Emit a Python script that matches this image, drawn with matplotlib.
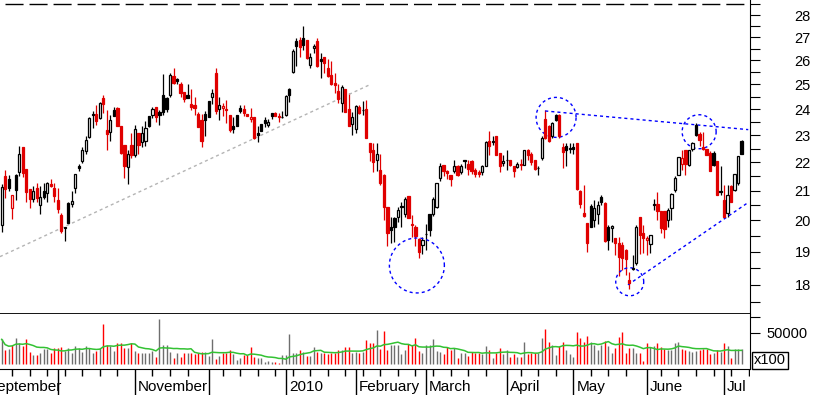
import numpy as np
import pandas as pd
import matplotlib
matplotlib.use('Agg')
import matplotlib.pyplot as plt
from matplotlib.ticker import FixedLocator, FuncFormatter, NullFormatter

plt.rcParams['font.family'] = ['Liberation Sans', 'DejaVu Sans']
plt.rcParams['lines.scale_dashes'] = False

# daily candles (open, high, low, close)
opens = [19.86, 21.50, 21.40, 20.41, 21.55, 21.67, 22.55, 21.76, 21.05, 20.73,
         21.09, 20.50, 21.00, 20.92, 21.22, 21.10, 20.69, 20.18, 19.80, 20.57,
         20.54, 21.10, 21.85, 22.03, 22.40, 22.93, 23.82, 23.80, 23.65, 24.45,
         23.20, 23.11, 23.97, 24.04, 23.33, 22.63, 21.83, 22.62, 22.26, 23.07,
         22.73, 22.78, 23.72, 23.76, 24.09, 23.89, 24.55, 24.46, 24.58, 25.32,
         25.20, 25.00, 24.70, 24.58, 24.20, 24.16, 23.80, 23.58, 23.80, 24.31,
         24.47, 25.45, 24.00, 24.03, 24.00, 23.76, 23.33, 23.76, 24.04, 24.00,
         23.80, 23.60, 23.70, 23.07, 23.43, 23.58, 23.40, 23.85, 23.87, 23.75,
         23.71, 23.76, 24.80, 25.52, 26.85, 26.88, 26.99, 26.88, 25.80, 26.52,
         26.85, 26.05, 26.13, 25.66, 25.40, 25.06, 24.73, 24.25, 24.80, 24.00,
         23.43, 23.22, 24.07, 23.98, 24.00, 22.70, 22.45, 22.07, 21.73, 21.55,
         20.44, 19.80, 20.07, 20.12, 20.48, 20.22, 20.82, 19.90, 19.80, 19.41,
         19.22, 19.57, 20.22, 20.22, 20.44, 21.43, 21.90, 21.68, 21.55, 21.70,
         21.87, 21.64, 22.07, 21.95, 22.03, 21.73, 21.65, 21.67, 21.85, 22.78,
         22.80, 22.95, 22.35, 21.98, 22.10, 22.07, 21.87, 21.83, 21.93, 21.91,
         22.45, 22.30, 22.07, 21.80, 22.17, 23.60, 23.33, 22.95, 23.76, 23.76,
         22.57, 22.60, 22.52, 22.55, 22.69, 21.00, 20.25, 19.91, 20.47, 20.02,
         20.22, 20.80, 20.57, 19.80, 19.75, 19.43, 19.28, 19.20, 19.06, 18.13,
         18.50, 18.65, 20.12, 19.60, 19.36, 19.26, 20.55, 20.55, 20.30, 20.30,
         20.02, 20.40, 21.03, 21.55, 21.95, 22.43, 21.90, 22.47, 23.40, 23.04,
         22.57, 22.50, 22.35, 22.33, 22.03, 21.00, 20.69, 20.25, 21.16, 21.03,
         21.26, 22.80]
highs = [21.24, 21.73, 21.55, 20.86, 21.60, 22.60, 22.55, 21.76, 21.05, 21.16,
         21.25, 21.16, 21.28, 21.30, 21.40, 21.26, 21.08, 20.25, 19.80, 20.60,
         21.00, 21.60, 21.95, 22.55, 22.95, 23.70, 23.93, 24.15, 24.30, 24.55,
         23.97, 23.76, 24.10, 24.10, 23.33, 22.63, 22.43, 23.07, 23.40, 23.10,
         23.35, 23.55, 23.72, 24.09, 24.09, 23.95, 25.44, 24.50, 25.45, 25.68,
         25.25, 25.10, 24.70, 25.03, 24.80, 24.47, 23.90, 23.83, 23.92, 24.31,
         24.80, 25.66, 24.47, 24.25, 24.36, 23.76, 23.70, 23.76, 24.18, 24.18,
         23.80, 24.04, 23.70, 23.33, 23.43, 23.68, 23.60, 23.85, 23.90, 23.87,
         23.93, 24.55, 24.85, 26.48, 26.95, 27.01, 27.50, 26.88, 26.30, 26.70,
         26.99, 26.30, 26.16, 26.05, 25.98, 25.45, 25.03, 24.96, 24.80, 24.63,
         23.89, 24.16, 24.16, 24.33, 24.36, 22.72, 22.69, 22.69, 22.30, 21.60,
         20.45, 20.12, 20.10, 20.45, 20.63, 20.80, 20.82, 20.18, 19.84, 19.45,
         19.48, 19.90, 20.22, 20.80, 21.26, 21.98, 21.90, 21.73, 21.55, 22.10,
         21.90, 21.95, 22.10, 22.09, 22.10, 21.79, 21.73, 21.90, 22.80, 23.14,
         22.98, 22.95, 22.35, 22.25, 22.43, 22.07, 21.87, 22.00, 22.11, 22.45,
         22.50, 22.39, 22.07, 21.85, 22.95, 23.97, 23.40, 23.50, 23.80, 23.80,
         22.69, 22.69, 22.69, 22.69, 22.69, 21.03, 21.20, 19.91, 20.55, 20.69,
         20.65, 20.85, 20.60, 19.85, 19.85, 19.43, 19.48, 19.30, 19.10, 18.37,
         18.90, 19.85, 20.12, 19.84, 19.50, 19.54, 20.70, 20.95, 20.30, 20.30,
         20.40, 20.92, 21.50, 22.20, 22.43, 22.43, 22.45, 22.75, 23.45, 23.13,
         23.13, 22.50, 22.40, 22.40, 22.03, 21.87, 21.20, 21.20, 21.20, 21.59,
         22.23, 22.82]
lows = [19.64, 20.75, 20.98, 20.04, 20.69, 21.50, 21.46, 20.63, 20.43, 20.63,
        20.63, 20.20, 20.71, 20.63, 21.14, 20.60, 20.26, 19.60, 19.33, 19.88,
        20.44, 20.92, 21.70, 21.98, 22.30, 22.90, 23.27, 23.40, 23.60, 23.87,
        22.43, 22.78, 23.75, 23.33, 22.30, 21.45, 21.24, 22.17, 22.20, 22.30,
        22.55, 22.60, 23.30, 23.65, 23.50, 23.40, 23.76, 23.90, 24.50, 25.00,
        25.00, 24.50, 24.30, 24.43, 23.97, 23.76, 23.30, 22.57, 22.98, 23.71,
        24.22, 23.80, 23.58, 23.75, 23.46, 23.13, 23.07, 23.36, 23.85, 23.72,
        23.74, 23.50, 22.85, 22.74, 23.14, 23.30, 23.30, 23.60, 23.73, 23.50,
        23.64, 23.74, 24.30, 25.45, 25.75, 26.16, 26.44, 26.05, 25.66, 26.30,
        25.73, 25.26, 25.45, 25.30, 24.98, 24.66, 24.25, 23.89, 23.89, 23.33,
        23.00, 23.07, 23.80, 23.76, 22.88, 22.05, 21.67, 21.70, 21.20, 20.02,
        19.17, 19.28, 19.30, 19.95, 19.80, 20.10, 20.09, 19.48, 19.17, 18.80,
        18.94, 19.06, 19.50, 20.15, 20.40, 21.35, 21.50, 21.40, 21.16, 21.62,
        21.50, 21.60, 21.80, 21.55, 21.60, 21.46, 21.46, 21.55, 21.85, 22.27,
        22.63, 22.27, 21.67, 21.85, 21.73, 21.85, 21.48, 21.80, 21.73, 21.90,
        22.09, 21.91, 21.73, 21.55, 22.07, 22.85, 22.75, 22.90, 23.55, 22.90,
        21.80, 21.85, 22.35, 22.30, 21.03, 20.40, 20.12, 19.00, 19.80, 19.79,
        19.90, 20.50, 19.30, 19.05, 19.30, 18.90, 18.25, 18.45, 18.30, 17.87,
        18.45, 18.60, 18.94, 18.95, 18.90, 18.95, 20.35, 20.00, 19.60, 19.43,
        19.80, 20.02, 20.95, 21.55, 21.73, 21.55, 21.87, 22.40, 22.95, 22.60,
        22.45, 22.27, 21.68, 21.85, 20.85, 20.85, 20.07, 20.10, 20.60, 21.00,
        21.20, 22.30]
closes = [21.13, 21.06, 21.10, 20.86, 21.03, 22.30, 21.63, 20.96, 20.71, 21.00,
          20.75, 20.78, 20.80, 21.26, 21.18, 20.83, 20.38, 19.66, 19.77, 19.91,
          20.66, 21.59, 21.78, 22.43, 22.82, 23.65, 23.78, 23.55, 24.25, 24.20,
          23.03, 23.58, 23.75, 23.33, 22.35, 21.85, 22.30, 22.26, 23.24, 22.63,
          23.10, 23.27, 23.33, 24.00, 23.68, 23.76, 23.90, 24.00, 25.40, 25.06,
          25.12, 24.63, 24.40, 24.45, 24.10, 24.05, 23.30, 22.80, 23.58, 23.71,
          24.63, 23.94, 24.18, 24.14, 23.95, 23.20, 23.22, 23.36, 23.94, 23.85,
          23.74, 23.70, 22.88, 23.00, 23.14, 23.48, 23.50, 23.75, 23.73, 23.68,
          23.70, 24.52, 24.55, 26.40, 26.62, 26.59, 26.66, 26.08, 26.13, 26.62,
          25.76, 25.96, 25.87, 25.35, 25.02, 24.99, 24.39, 24.90, 23.89, 23.35,
          23.68, 24.11, 23.85, 23.96, 22.90, 22.38, 22.00, 22.30, 21.26, 20.45,
          19.61, 19.70, 19.80, 20.35, 20.46, 20.71, 20.09, 19.85, 19.51, 19.00,
          19.38, 19.55, 19.70, 20.71, 21.26, 21.87, 21.70, 21.62, 21.40, 21.87,
          21.55, 21.87, 22.03, 21.77, 21.68, 21.60, 21.58, 21.85, 22.75, 22.60,
          22.76, 22.27, 21.85, 22.05, 22.07, 21.91, 21.70, 21.95, 21.90, 22.45,
          22.28, 22.00, 21.75, 21.78, 22.90, 22.88, 22.80, 23.46, 23.58, 22.95,
          22.39, 22.45, 22.47, 22.50, 21.05, 20.55, 20.15, 19.28, 19.80, 20.41,
          20.52, 20.63, 19.33, 19.38, 19.82, 19.28, 18.85, 18.82, 18.78, 18.05,
          18.46, 19.80, 19.54, 19.45, 19.44, 19.54, 20.50, 20.30, 19.75, 19.72,
          20.35, 20.90, 21.43, 22.20, 22.16, 21.95, 22.45, 22.72, 23.00, 22.82,
          22.50, 22.27, 21.70, 21.91, 20.86, 20.95, 20.12, 20.86, 20.62, 21.59,
          22.23, 22.30]
# volume in units of 100 shares
volumes = [39500, 22700, 23700, 30600, 42200, 34300, 29000, 40100, 20000, 14800,
           14800, 17400, 23700, 23700, 17400, 26400, 26400, 26900, 21600, 26400,
           17400, 29000, 26400, 20000, 29000, 26400, 17400, 21600, 26400, 63800,
           30600, 29000, 21600, 33200, 33200, 26400, 26400, 34300, 21600, 17400,
           17400, 17400, 17400, 21600, 12100, 71700, 30600, 30600, 20000, 10500,
           18400, 12100, 17400, 17400, 17400, 15800, 17400, 20000, 20000, 13700,
           40100, 8400, 13700, 17400, 17400, 22700, 15800, 6900, 10500, 14800,
           14800, 27900, 12100, 9500, 9500, 4200, 5300, 4200, 4200, 1600,
           14800, 14800, 48000, 18400, 18400, 22700, 20000, 13700, 13700, 27900,
           20000, 18400, 18400, 15800, 17400, 18400, 22700, 22700, 27900, 27900,
           18400, 20000, 17400, 20000, 38500, 33200, 33200, 54300, 23700, 52700,
           22700, 30600, 30600, 30600, 15800, 22700,
           31600, 30600, 41100, 21100, 18400, 30600, 30600, 40100, 21600, 20000,
           15800, 26900, 22700, 25300, 9500, 17400, 17400, 13200, 20000, 17400,
           17400, 15800, 29000, 22700, 9500, 18400, 25300, 16300, 22700, 12100,
           15800, 12100, 12100, 34800, 15800, 17400, 17400, 17400, 41100, 55900,
           34800, 30600, 14800, 29000, 35800, 22700, 15800, 12100, 51600, 41100,
           35800, 44800, 35800, 30600, 22700, 30600, 37400, 29000, 18400, 25300,
           42700, 51600, 17400, 25300, 25300, 17400, 18400, 5800, 33200, 27900,
           29000, 33200, 27900, 23700, 22700, 22700, 33200, 35800, 23700, 22700,
           21600, 20000, 21600, 22700, 23700, 23700, 16300, 17400, 22700, 20000,
           33200, 29000, 10500, 23700, 23700, 23700]

month_first = [-5, 16, 38, 59, 81, 101, 121, 144, 163, 184, 206]
month_labels = ['September', '', 'November', '', '2010', 'February', 'March',
                'April', 'May', 'June', 'Jul']

# hand drawn studies: (bar index, price)
gray_trend = [(-0.5, 18.85), (104.8, 24.97)]
resist_line = [(155.0, 23.93), (212.9, 23.21)]
support_line = [(178.6, 18.00), (212.9, 20.60)]
circle_centers = [(118.4, 18.58), (158.1, 23.68), (198.9, 23.13), (179.1, 18.09)]
circle_radii_px = [27.5, 20, 17, 14]

W, H = 817, 395
fig = plt.figure(figsize=(W / 100, H / 100), dpi=100)
axw = 750 / W
ax = fig.add_axes([0, (H - 314) / H, axw, 314 / H])
axv = fig.add_axes([0, (H - 369.3) / H, axw, 55.3 / H])
axd = fig.add_axes([0, 0, axw, (H - 369.3) / H])

x = np.arange(len(closes))
o = np.array(opens); h = np.array(highs); l = np.array(lows); c = np.array(closes)
prev = np.concatenate([[c[0] - 1], c[:-1]])
cols = np.where(c < prev, '#e00000', '#000000')
hollow = c > o

ax.vlines(x, l, h, colors=cols, lw=0.9, zorder=2)
fc = np.where(hollow, 'white', cols)
ax.bar(x, c - o, bottom=o, width=0.62, color=fc, edgecolor=cols, linewidth=0.9, zorder=3)

xlim = (-0.485, 213.4)
ax.set_xlim(*xlim)
ax.set_yscale('log')
ax.set_ylim(17.16, 28.70)
ax.axhline(28.5, color='black', lw=1, linestyle=(13.7, (13, 4.3)))

ax.yaxis.set_major_locator(FixedLocator(np.arange(18, 29)))
ax.yaxis.set_minor_locator(FixedLocator(np.arange(17.5, 29, 1.0)))
ax.yaxis.set_major_formatter(FuncFormatter(lambda v, p: '%d' % round(v)))
ax.yaxis.set_minor_formatter(NullFormatter())
ax.tick_params(axis='y', which='both', left=False, right=True, labelleft=False,
               labelright=True, direction='out', length=7.2, width=0.8, pad=36.5,
               labelsize=10.5)
for lab in ax.get_yticklabels():
    lab.set_horizontalalignment('right')
ax.set_xticks([])
for s in ['left', 'top']:
    ax.spines[s].set_visible(False)
ax.spines['bottom'].set_linewidth(1.3)
ax.spines['bottom'].set_zorder(5)

# trend lines
ax.plot(*zip(*gray_trend), color='#b4b4b4', lw=1, linestyle=(0, (2.2, 2.2)))
ax.plot(*zip(*resist_line), color='#0000ff', lw=1, linestyle=(0, (2.2, 2.2)))
ax.plot(*zip(*support_line), color='#0000ff', lw=1, linestyle=(0, (2.2, 2.2)))

# circles are round on screen, so build them in pixels
t = np.linspace(0, 2 * np.pi, 200)
inv = ax.transData.inverted()
for (cx, cy), r in zip(circle_centers, circle_radii_px):
    px, py = ax.transData.transform((cx, cy))
    pts = inv.transform(np.column_stack([px + r * np.cos(t), py + r * np.sin(t)]))
    ax.plot(pts[:, 0], pts[:, 1], color='#0000ff', lw=1, linestyle=(0, (2.2, 2.2)))

# volume
vol = np.array(volumes)
vcols = np.where(c < prev, '#ff0000', '#6e6e6e')
axv.vlines(x, 0, vol, colors=vcols, lw=1.0)
ma = pd.Series(vol).rolling(10, min_periods=1).mean()
axv.plot(x, ma, color='#33c233', lw=1.1)
axv.set_xlim(*xlim)
axv.set_ylim(-7900, 79600)
axv.set_xticks([])
axv.yaxis.set_major_locator(FixedLocator([50000]))
axv.yaxis.set_minor_locator(FixedLocator([75000]))
axv.yaxis.set_minor_formatter(NullFormatter())
axv.tick_params(axis='y', which='both', left=False, right=True, labelleft=False,
                labelright=True, direction='out', length=7.2, width=0.8, pad=34.5,
                labelsize=10.5)
for lab in axv.get_yticklabels():
    lab.set_horizontalalignment('right')
for s in ['left', 'top']:
    axv.spines[s].set_visible(False)
fig.text(754 / W, 1 - 360.5 / H, 'x100', fontsize=10.5, ha='left', va='center',
         bbox=dict(boxstyle='square,pad=0.12', fc='white', ec='black', lw=1))

# date strip
hd = H - 369.3
axd.set_xlim(*xlim)
axd.set_ylim(0, hd)
axd.axis('off')
axd.vlines(month_first, 0, hd, color='black', lw=1)
wk = [i for i in range(3, 214, 5) if min(abs(i - m) for m in month_first) > 1.5]
axd.vlines(wk, hd - 7, hd, color='black', lw=1)
for m, lab in zip(month_first, month_labels):
    axd.text(m + 0.9, 4, lab, fontsize=11, ha='left', va='baseline', clip_on=True)

fig.savefig('out.png', dpi=100)
